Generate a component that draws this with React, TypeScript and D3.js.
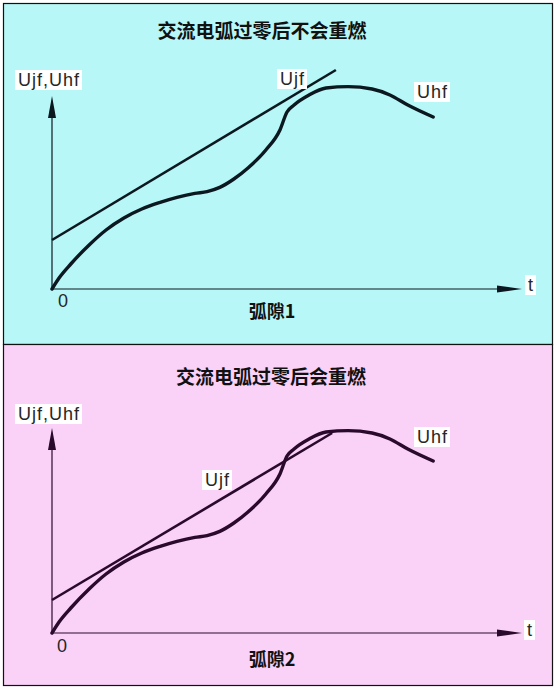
import { useEffect, useRef } from 'react';
import * as d3 from 'd3';

// Uhf curve (same shape in both panels), t and U in chart units
const uhfTime = [0, 0.15, 0.4, 0.79, 1.15, 1.53, 1.91, 2.3, 2.66, 3.04, 3.3, 3.57, 3.87, 4.17, 4.55, 4.85, 5.0, 5.15, 5.47, 5.83, 6.3, 6.81, 7.19, 7.57, 8.11];
const uhfVoltage = [0, 0.55, 1.25, 2.2, 2.95, 3.55, 4.0, 4.33, 4.58, 4.78, 4.87, 5.08, 5.5, 6.05, 6.95, 7.95, 8.85, 9.2, 9.7, 10.05, 10.12, 10.0, 9.7, 9.2, 8.6];

// Ujf straight lines: start/end time and voltage per panel
const ujfTime = [[0, 6.04], [0, 5.96]];
const ujfVoltage = [[2.45, 10.95], [1.65, 10.0]];

const titles = ['交流电弧过零后不会重燃', '交流电弧过零后会重燃'];
const gapLabels = ['弧隙1', '弧隙2'];
const axisLabel = 'Ujf,Uhf';

const PANELS = [
  {
    top: 3, height: 341, axisY: 289, yTip: 9.65, bg: '#b8f7f7', ink: '#0c1820',
    titleX: 262, titleY: 38, gapY: 318,
    axisLbl: [18, 86], ujfLbl: [280, 85], uhfLbl: [417, 98], tLbl: [528, 291], zeroLbl: [63, 307],
  },
  {
    top: 344, height: 341, axisY: 633, yTip: 10.25, bg: '#fad2f8', ink: '#2a0a2c',
    titleX: 271, titleY: 384, gapY: 666,
    axisLbl: [18, 420], ujfLbl: [205, 486], uhfLbl: [417, 443], tLbl: [527, 636], zeroLbl: [62, 652],
  },
];

const W = 555;
const H = 690;

export default function App() {
  const svgRef = useRef<SVGSVGElement>(null);

  useEffect(() => {
    if (!svgRef.current) return;
    const svg = d3.select(svgRef.current);
    svg.selectAll('*').remove();

    svg.append('rect').attr('width', W).attr('height', H).attr('fill', '#ffffff');

    const uhfData = uhfTime.map((t, i) => [t, uhfVoltage[i]] as [number, number]);

    PANELS.forEach((p, k) => {
      const g = svg.append('g');

      g.append('rect')
        .attr('x', 3.5)
        .attr('y', p.top + 0.5)
        .attr('width', 549)
        .attr('height', p.height)
        .attr('fill', p.bg)
        .attr('stroke', '#111')
        .attr('stroke-width', 1.2);

      const x = d3.scaleLinear().domain([0, 10]).range([52, 522]);
      const y = d3.scaleLinear().domain([0, 10]).range([p.axisY, p.axisY - 200]);

      // axes
      g.append('line')
        .attr('x1', x(0)).attr('x2', x(10) - 20)
        .attr('y1', y(0)).attr('y2', y(0))
        .attr('stroke', p.ink).attr('stroke-width', 1.2);
      g.append('path')
        .attr('d', `M${x(10)},${y(0)} L${x(10) - 25},${y(0) - 3.5} L${x(10) - 25},${y(0) + 3.5} Z`)
        .attr('fill', p.ink);

      g.append('line')
        .attr('x1', x(0)).attr('x2', x(0))
        .attr('y1', y(0)).attr('y2', y(p.yTip) + 20)
        .attr('stroke', p.ink).attr('stroke-width', 1.2);
      g.append('path')
        .attr('d', `M${x(0)},${y(p.yTip)} L${x(0) - 4},${y(p.yTip) + 22} L${x(0) + 4},${y(p.yTip) + 22} Z`)
        .attr('fill', p.ink);

      // Ujf line
      const ujfData = ujfTime[k].map((t, i) => [t, ujfVoltage[k][i]] as [number, number]);
      g.append('path')
        .datum(ujfData)
        .attr('d', d3.line<[number, number]>().x((d) => x(d[0])).y((d) => y(d[1])))
        .attr('fill', 'none')
        .attr('stroke', p.ink)
        .attr('stroke-width', 2.6);

      // Uhf curve
      g.append('path')
        .datum(uhfData)
        .attr(
          'd',
          d3.line<[number, number]>()
            .x((d) => x(d[0]))
            .y((d) => y(d[1]))
            .curve(d3.curveMonotoneX)
        )
        .attr('fill', 'none')
        .attr('stroke', p.ink)
        .attr('stroke-width', 3.4)
        .attr('stroke-linecap', 'round');

      // labels with white boxes
      const boxed = (txt: string, pos: number[]) => {
        const lbl = g.append('g');
        const t = lbl.append('text')
          .attr('x', pos[0])
          .attr('y', pos[1])
          .attr('font-family', '"Liberation Sans", Arial, sans-serif')
          .attr('font-size', 18)
          .attr('letter-spacing', 1)
          .attr('fill', '#262626')
          .text(txt);
        const bb = (t.node() as SVGTextElement).getBBox();
        lbl.insert('rect', 'text')
          .attr('x', bb.x - 3)
          .attr('y', bb.y)
          .attr('width', bb.width + 5)
          .attr('height', bb.height)
          .attr('fill', '#ffffff');
      };
      boxed(axisLabel, p.axisLbl);
      boxed('Ujf', p.ujfLbl);
      boxed('Uhf', p.uhfLbl);
      boxed('t', p.tLbl);

      g.append('text')
        .attr('x', p.zeroLbl[0])
        .attr('y', p.zeroLbl[1])
        .attr('text-anchor', 'middle')
        .attr('font-family', '"Liberation Sans", Arial, sans-serif')
        .attr('font-size', 18)
        .attr('fill', '#262626')
        .text('0');

      g.append('text')
        .attr('x', p.titleX)
        .attr('y', p.titleY)
        .attr('text-anchor', 'middle')
        .attr('font-family', '"Noto Sans CJK SC", sans-serif')
        .attr('font-weight', 700)
        .attr('font-size', 19)
        .attr('fill', '#111')
        .text(titles[k]);

      g.append('text')
        .attr('x', 272)
        .attr('y', p.gapY)
        .attr('text-anchor', 'middle')
        .attr('font-family', '"Noto Sans CJK SC", sans-serif')
        .attr('font-weight', 700)
        .attr('font-size', 18)
        .attr('fill', '#111')
        .text(gapLabels[k]);
    });
  }, []);

  return (
    <svg
      ref={svgRef}
      width={W}
      height={H}
      style={{ position: 'absolute', left: 0, top: 0, display: 'block' }}
    />
  );
}
